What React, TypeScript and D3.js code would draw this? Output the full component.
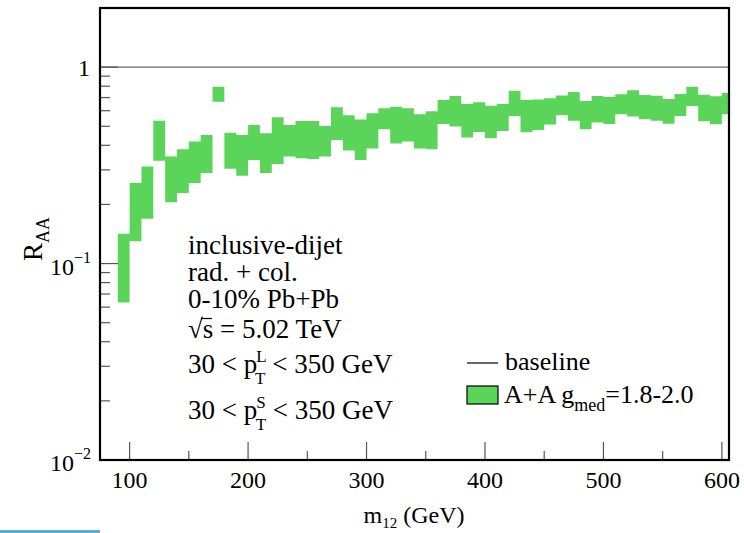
import React from 'react';
import * as d3 from 'd3';

// bin lower edges (GeV), 10 GeV wide
const binLow = [90, 100, 110, 120, 130, 140, 150, 160, 170, 180, 190, 200, 210, 220, 230, 240, 250,
  260, 270, 280, 290, 300, 310, 320, 330, 340, 350, 360, 370, 380, 390, 400, 410, 420, 430, 440,
  450, 460, 470, 480, 490, 500, 510, 520, 530, 540, 550, 560, 570, 580, 590, 600];
const binWidth = 10;
// A+A g_med = 1.8 - 2.0 band
const bandHigh = [0.142, 0.257, 0.312, 0.534, 0.351, 0.382, 0.418, 0.452, 0.794, 0.464, 0.452,
  0.508, 0.461, 0.555, 0.508, 0.532, 0.532, 0.502, 0.624, 0.569, 0.542, 0.582, 0.617, 0.629,
  0.617, 0.575, 0.596, 0.68, 0.713, 0.649, 0.662, 0.636, 0.649, 0.758, 0.68, 0.685, 0.694,
  0.718, 0.747, 0.672, 0.713, 0.704, 0.727, 0.762, 0.721, 0.715, 0.688, 0.73, 0.794, 0.724,
  0.71, 0.738];
const bandLow = [0.0634, 0.13, 0.169, 0.334, 0.205, 0.229, 0.257, 0.289, 0.667, 0.304, 0.28,
  0.337, 0.289, 0.321, 0.351, 0.344, 0.341, 0.351, 0.426, 0.376, 0.337, 0.385, 0.483, 0.408,
  0.418, 0.385, 0.382, 0.514, 0.498, 0.438, 0.468, 0.435, 0.473, 0.564, 0.466, 0.479, 0.51,
  0.569, 0.534, 0.483, 0.522, 0.514, 0.575, 0.56, 0.543, 0.534, 0.515, 0.564, 0.634, 0.53,
  0.512, 0.575];
const baseline = 1;

const xMajor = [100, 200, 300, 400, 500, 600];
const xMinor = [150, 250, 350, 450, 550];

const W = 744, H = 533;
const margin = { top: 8, right: 15, bottom: 73, left: 100 };
const FONT = "'Liberation Serif', 'DejaVu Serif', serif";
const GREEN = '#5ad55a';

export default function App() {
  const x = d3.scaleLinear().domain([75, 606]).range([margin.left, W - margin.right]);
  const y = d3.scaleLog().domain([0.01, 2]).range([H - margin.bottom, margin.top]);
  const [x0, x1] = x.range();
  const [yb, yt] = y.range();

  // step band
  const pts = binLow.map((b, i) => ({ x: b, hi: bandHigh[i], lo: bandLow[i] }));
  const last = pts[pts.length - 1];
  pts.push({ x: last.x + binWidth, hi: last.hi, lo: last.lo });
  const area = d3.area<any>()
    .x(d => x(d.x))
    .y0(d => y(d.lo))
    .y1(d => y(d.hi))
    .curve(d3.curveStepAfter);

  const yTicks = y.ticks();
  const isMajor = (v: number) => Math.abs(Math.log10(v) - Math.round(Math.log10(v))) < 1e-6;

  return (
    <svg width={W} height={H} style={{ position: 'absolute', left: 0, top: 0, background: '#fff' }}
      fontFamily={FONT}>
      <defs>
        <clipPath id="plot">
          <rect x={x0} y={yt} width={x1 - x0} height={yb - yt} />
        </clipPath>
      </defs>

      <g clipPath="url(#plot)">
        <path d={area(pts) || ''} fill={GREEN} />
        <line x1={x0} x2={x1} y1={y(baseline)} y2={y(baseline)} stroke="#666" strokeWidth={1.3} />
      </g>

      {/* y ticks */}
      {yTicks.map((t, i) => (
        <line key={'yt' + i} x1={x0} x2={x0 + (isMajor(t) ? 18 : 10)} y1={y(t)} y2={y(t)}
          stroke="#555" strokeWidth={1.2} />
      ))}
      {/* x ticks */}
      {xMajor.map(t => (
        <line key={'xM' + t} x1={x(t)} x2={x(t)} y1={yb} y2={yb - 18} stroke="#555" strokeWidth={1.2} />
      ))}
      {xMinor.map(t => (
        <line key={'xm' + t} x1={x(t)} x2={x(t)} y1={yb} y2={yb - 9} stroke="#555" strokeWidth={1.2} />
      ))}

      <rect x={x0} y={yt} width={x1 - x0} height={yb - yt} fill="none" stroke="#000" strokeWidth={2.2} />

      {/* x tick labels */}
      {xMajor.map(t => (
        <text key={'xl' + t} x={x(t)} y={yb + 28} textAnchor="middle" fontSize={24}>{t}</text>
      ))}
      {/* y tick labels */}
      <text x={x0 - 10} y={y(1) + 9} textAnchor="end" fontSize={24}>1</text>
      {[0.1, 0.01].map(v => (
        <text key={'yl' + v} x={x0 - 9} y={y(v) + 11} textAnchor="end" fontSize={24}>
          10<tspan fontSize={16} dy={-12}>{'\u2212' + Math.round(-Math.log10(v))}</tspan>
        </text>
      ))}

      {/* axis titles */}
      <text transform="translate(42,239) rotate(-90)" textAnchor="middle" fontSize={27}>
        R<tspan fontSize={18} dy={7}>AA</tspan>
      </text>
      <text x={414} y={523} textAnchor="middle" fontSize={24}>
        m<tspan fontSize={15} dy={5}>12</tspan><tspan dy={-5}> (GeV)</tspan>
      </text>

      {/* annotations */}
      <g fontSize={27}>
        <text x={188} y={254}>inclusive-dijet</text>
        <text x={188} y={281}>rad. + col.</text>
        <text x={188} y={308}>0-10% Pb+Pb</text>
        <text x={188} y={338}>{'\u221A'}s = 5.02 TeV</text>
        <line x1={201} x2={212} y1={318.5} y2={318.5} stroke="#000" strokeWidth={1.2} />
        <text x={188} y={373}>30 &lt; p<tspan fontSize={17} dx={-1} dy={-11}>L</tspan>
          <tspan fontSize={17} dx={-10} dy={22}>T</tspan><tspan dy={-11}> &lt; 350 GeV</tspan></text>
        <text x={188} y={419}>30 &lt; p<tspan fontSize={17} dx={-1} dy={-11}>S</tspan>
          <tspan fontSize={17} dx={-10} dy={22}>T</tspan><tspan dy={-11}> &lt; 350 GeV</tspan></text>
      </g>

      {/* legend */}
      <g fontSize={26}>
        <line x1={467} x2={498} y1={363} y2={363} stroke="#000" strokeWidth={1.2} />
        <text x={505} y={370}>baseline</text>
        <rect x={467} y={386} width={31} height={18} fill={GREEN} stroke="#000" strokeWidth={1.2} />
        <text x={504} y={403}>A+A g<tspan fontSize={18} dy={8}>med</tspan><tspan dy={-8}>=1.8-2.0</tspan></text>
      </g>

      <rect x={0} y={530} width={100} height={3} fill="#5aafc8" />
    </svg>
  );
}
